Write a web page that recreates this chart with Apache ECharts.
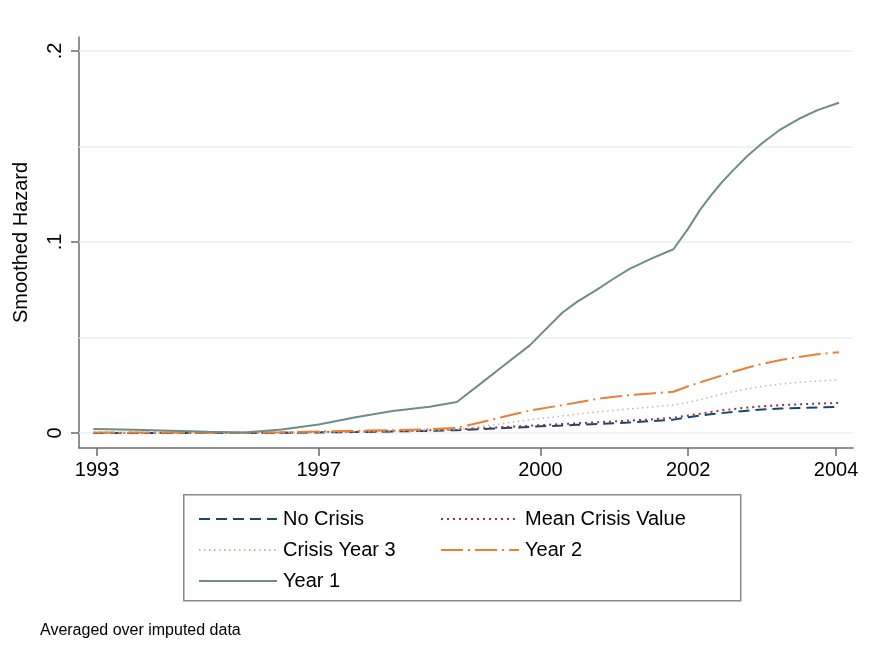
<!DOCTYPE html>
<html>
<head>
<meta charset="utf-8">
<script src="https://cdn.jsdelivr.net/npm/echarts@6/dist/echarts.min.js"></script>
<style>
html,body{margin:0;padding:0;background:#fff;}
#chart{width:873px;height:649px;}
</style>
</head>
<body>
<div id="chart"></div>
<script>
// Analysis-time grid (0 = 1993 ... 10 = 2004)
const xValues = [-0.05, 0.5, 1, 1.5, 2, 2.5, 3, 3.5, 4, 4.5, 4.87, 5.2, 5.5, 5.86, 6.0, 6.3, 6.5, 6.76, 7.0, 7.2, 7.5, 7.8, 8.0, 8.16, 8.3, 8.45, 8.6, 8.8, 9.0, 9.25, 9.5, 9.75, 10.04];

const noCrisis    = [0.0000, 0.0000, 0.0000, 0.0000, 0.0000, 0.0001, 0.0003, 0.0005, 0.0008, 0.0011, 0.0015, 0.0020, 0.0026, 0.0032, 0.0035, 0.0039, 0.0043, 0.0047, 0.0051, 0.0055, 0.0062, 0.0070, 0.0082, 0.0091, 0.0098, 0.0104, 0.0110, 0.0117, 0.0123, 0.0128, 0.0131, 0.0134, 0.0137];
const meanCrisis  = [0.0001, 0.0001, 0.0001, 0.0001, 0.0001, 0.0002, 0.0004, 0.0007, 0.0010, 0.0014, 0.0019, 0.0025, 0.0031, 0.0038, 0.0041, 0.0047, 0.0051, 0.0056, 0.0061, 0.0065, 0.0071, 0.0080, 0.0092, 0.0101, 0.0110, 0.0118, 0.0125, 0.0133, 0.0140, 0.0146, 0.0150, 0.0154, 0.0157];
const crisisYear3 = [0.0001, 0.0001, 0.0001, 0.0001, 0.0001, 0.0002, 0.0004, 0.0006, 0.0009, 0.0013, 0.0019, 0.0035, 0.0050, 0.0070, 0.0076, 0.0089, 0.0099, 0.0110, 0.0119, 0.0126, 0.0136, 0.0147, 0.0160, 0.0174, 0.0188, 0.0203, 0.0216, 0.0231, 0.0244, 0.0256, 0.0265, 0.0272, 0.0278];
const year2       = [0.0003, 0.0003, 0.0002, 0.0001, 0.0001, 0.0004, 0.0008, 0.0012, 0.0015, 0.0020, 0.0027, 0.0056, 0.0085, 0.0118, 0.0127, 0.0146, 0.0160, 0.0178, 0.0190, 0.0198, 0.0207, 0.0216, 0.0245, 0.0265, 0.0282, 0.0300, 0.0319, 0.0342, 0.0362, 0.0382, 0.0398, 0.0412, 0.0423];
const year1       = [0.0021, 0.0017, 0.0012, 0.0006, 0.0003, 0.0018, 0.0045, 0.0083, 0.0115, 0.0138, 0.0162, 0.0261, 0.0352, 0.0460, 0.0515, 0.0631, 0.0688, 0.0749, 0.0810, 0.0858, 0.0913, 0.0962, 0.1070, 0.1168, 0.1240, 0.1310, 0.1372, 0.1450, 0.1517, 0.1590, 0.1645, 0.1690, 0.1729];

const xTickValues = [0, 3, 6, 8, 10];
const xTickLabels = ['1993', '1997', '2000', '2002', '2004'];
const yTickValues = [0, 0.1, 0.2];
const yTickLabels = ['0', '.1', '.2'];
const yGridValues = [0, 0.05, 0.1, 0.15, 0.2];

const FONT = "'Liberation Sans', Arial, Helvetica, sans-serif";
const AXIS_COLOR = '#6b6b6b';

function pairs(ys) { return xValues.map((x, i) => [x, ys[i]]); }
function labelFor(values, labels, v) {
  for (let i = 0; i < values.length; i++) if (Math.abs(values[i] - v) < 1e-9) return labels[i];
  return '';
}

const chart = echarts.init(document.getElementById('chart'), null, {renderer: 'canvas'});

const baseLine = {type: 'line', symbol: 'none', showSymbol: false, smooth: false, z: 3, silent: true};
const legendCommon = {
  orient: 'vertical', top: 504, itemWidth: 78, itemHeight: 20, itemGap: 11, selectedMode: false,
  itemStyle: {opacity: 0, borderWidth: 0},
  textStyle: {fontSize: 20, color: '#000', fontFamily: FONT, padding: [0, 0, 0, 1], lineHeight: 20}
};

chart.setOption({
  animation: false,
  backgroundColor: '#fff',
  textStyle: {fontFamily: FONT},
  grid: {left: 79, right: 20, top: 37, bottom: 201, containLabel: false},
  xAxis: {
    type: 'value', min: -0.2436, max: 10.23,
    axisLine: {show: true, onZero: false, lineStyle: {color: AXIS_COLOR, width: 1.5}},
    axisTick: {show: true, length: 8, customValues: xTickValues, lineStyle: {color: AXIS_COLOR, width: 1.5}},
    axisLabel: {customValues: xTickValues, formatter: v => labelFor(xTickValues, xTickLabels, v),
      fontSize: 20, color: '#000', fontFamily: FONT, margin: 12},
    splitLine: {show: false}
  },
  yAxis: {
    type: 'value', min: -0.00785, max: 0.2073,
    name: 'Smoothed Hazard', nameLocation: 'middle', nameGap: 48,
    nameTextStyle: {fontSize: 20, color: '#000', fontFamily: FONT},
    axisLine: {show: true, onZero: false, lineStyle: {color: AXIS_COLOR, width: 1.5}},
    axisTick: {show: true, length: 8, customValues: yTickValues, lineStyle: {color: AXIS_COLOR, width: 1.5}},
    axisLabel: {customValues: yTickValues, formatter: v => labelFor(yTickValues, yTickLabels, v),
      rotate: 90, fontSize: 20, color: '#000', fontFamily: FONT, margin: 14},
    splitLine: {show: false}
  },
  legend: [
    Object.assign({}, legendCommon, {data: ['No Crisis', 'Crisis Year 3', 'Year 1'], left: 193}),
    Object.assign({}, legendCommon, {data: ['Mean Crisis Value', 'Year 2'], left: 435})
  ],
  graphic: [
    {type: 'rect', left: 183, top: 494, z: -1, silent: true,
     shape: {width: 557, height: 106}, style: {fill: '#fff', stroke: '#8a8a8a', lineWidth: 1.5}},
    {type: 'text', left: 40, top: 623, silent: true,
     style: {text: 'Averaged over imputed data', fontSize: 16, fill: '#000', font: '16px ' + FONT}}
  ],
  series: [
    Object.assign({}, baseLine, {
      name: 'No Crisis', data: pairs(noCrisis),
      lineStyle: {color: '#1a476f', width: 2, type: [11, 6]}, itemStyle: {color: '#1a476f'},
      markLine: {silent: true, symbol: 'none', z: 1, label: {show: false},
        lineStyle: {color: '#eaf2f3', width: 1.5, type: 'solid'},
        emphasis: {disabled: true},
        data: yGridValues.map(v => ({yAxis: v}))}
    }),
    Object.assign({}, baseLine, {
      name: 'Mean Crisis Value', data: pairs(meanCrisis),
      lineStyle: {color: '#90353b', width: 2, type: [2, 4]}, itemStyle: {color: '#90353b'}
    }),
    Object.assign({}, baseLine, {
      name: 'Crisis Year 3', data: pairs(crisisYear3),
      lineStyle: {color: '#b9bcaa', width: 1.5, type: [1.5, 3.5]}, itemStyle: {color: '#b9bcaa'}
    }),
    Object.assign({}, baseLine, {
      name: 'Year 2', data: pairs(year2),
      lineStyle: {color: '#ea8036', width: 2, type: [22, 5, 2, 5]}, itemStyle: {color: '#ea8036'}
    }),
    Object.assign({}, baseLine, {
      name: 'Year 1', data: pairs(year1),
      lineStyle: {color: '#6e8e84', width: 2, type: 'solid'}, itemStyle: {color: '#6e8e84'}
    })
  ]
});
</script>
</body>
</html>
